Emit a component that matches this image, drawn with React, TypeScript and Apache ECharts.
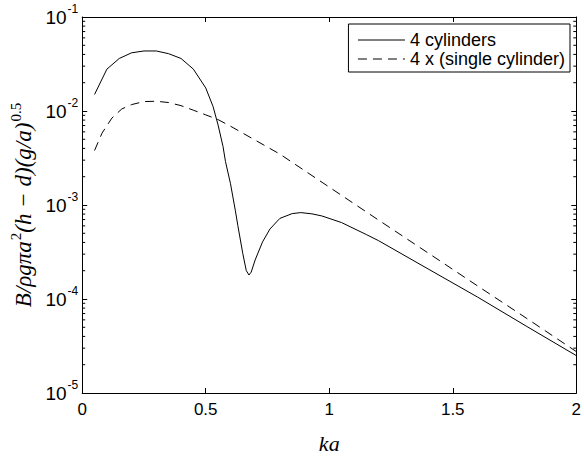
import React, { useEffect, useRef } from "react";
import * as echarts from "echarts";

const kaSolid = [0.05, 0.1, 0.15, 0.2, 0.25, 0.3, 0.35, 0.4, 0.45, 0.5, 0.53, 0.55, 0.57, 0.58, 0.6, 0.62, 0.63, 0.65, 0.664, 0.675, 0.684, 0.7, 0.73, 0.76, 0.8, 0.85, 0.885, 0.93, 0.97, 1.05, 1.15, 1.2, 1.4, 1.6, 1.8, 2.0];
const bSolid = [0.015, 0.0279, 0.0362, 0.0416, 0.0435, 0.0435, 0.0407, 0.0362, 0.0279, 0.0176, 0.0111, 0.0071, 0.0042, 0.0029, 0.0017, 0.00087, 0.000605, 0.000305, 0.000201, 0.000180, 0.000193, 0.00026, 0.000405, 0.000555, 0.00072, 0.00081, 0.00083, 0.000805, 0.000765, 0.00065, 0.000485, 0.000417, 0.000209, 0.000105, 0.000051, 0.000025];

const kaSingle = [0.05, 0.08, 0.12, 0.16, 0.2, 0.25, 0.3, 0.35, 0.4, 0.45, 0.5, 0.55, 0.6, 0.7, 0.8, 1.0, 1.2, 1.4, 1.6, 1.8, 2.0];
const bSingle = [0.0038, 0.0058, 0.0084, 0.0105, 0.0117, 0.0126, 0.0127, 0.0123, 0.0114, 0.0102, 0.0091, 0.0081, 0.0069, 0.0049, 0.00348, 0.00155, 0.00069, 0.000309, 0.000138, 0.000062, 0.0000276];

const xTicks = [0, 0.5, 1, 1.5, 2];
const minorMultipliers = [2, 3, 4, 5, 6, 7, 8, 9];
const minorDecades = [1e-5, 1e-4, 1e-3, 1e-2];

const seriesNames = ["4 cylinders", "4 x (single cylinder)"];

export default function App() {
  const ref = useRef<HTMLDivElement>(null);
  useEffect(() => {
    document.body.style.margin = "0";
    const chart = echarts.init(ref.current!, null, { renderer: "svg" });
    const minorVals: number[][] = [];
    minorDecades.forEach((d) => minorMultipliers.forEach((m) => minorVals.push([0, m * d])));
    const font = "'Liberation Sans', Arial, sans-serif";
    const serif = "'Liberation Serif', 'Times New Roman', serif";
    const axisLine = { show: true, onZero: false, lineStyle: { color: "#000", width: 1 } };
    const tick = { show: true, inside: true, length: 5, lineStyle: { color: "#000", width: 1 } };
    chart.setOption({
      animation: false,
      backgroundColor: "#fff",
      grid: { left: 80, right: 7, top: 17, bottom: 52, containLabel: false },
      legend: {
        data: seriesNames,
        orient: "vertical",
        right: 14,
        top: 24,
        itemStyle: { opacity: 0, borderWidth: 0 },
        lineStyle: { width: 1 },
        padding: [7, 5, 4, 9],
        itemGap: 1,
        itemWidth: 47,
        itemHeight: 14,
        borderColor: "#000",
        borderWidth: 1,
        backgroundColor: "#fff",
        borderRadius: 0,
        textStyle: { fontFamily: font, fontSize: 18, color: "#000" },
      },
      xAxis: [
        {
          type: "value",
          min: 0,
          max: 2,
          interval: 0.5,
          position: "bottom",
          axisLine,
          axisTick: tick,
          splitLine: { show: false },
          axisLabel: {
            fontFamily: font,
            fontSize: 17,
            color: "#000",
            margin: 8,
            formatter: (v: number) => (xTicks.includes(v) ? String(v) : ""),
          },
          name: "ka",
          nameLocation: "middle",
          nameGap: 39,
          nameTextStyle: { fontFamily: serif, fontStyle: "italic", fontSize: 22, color: "#000" },
        },
        {
          type: "value",
          min: 0,
          max: 2,
          interval: 0.5,
          position: "top",
          axisLine,
          axisTick: tick,
          splitLine: { show: false },
          axisLabel: { show: false },
        },
      ],
      yAxis: [
        {
          type: "log",
          logBase: 10,
          min: 1e-5,
          max: 1e-1,
          position: "left",
          axisLine,
          axisTick: tick,
          splitLine: { show: false },
          axisLabel: {
            margin: 4,
            formatter: (v: number) => `{b|10}{e|${Math.round(Math.log10(v))}}`,
            rich: {
              b: { fontFamily: font, fontSize: 19, color: "#000" },
              e: { fontFamily: font, fontSize: 12, color: "#000", padding: [0, 0, 16, 1] },
            },
          },
          name: "{i|B/ρgπa}{s|2}{i|(h − d)(g/a)}{s|0.5}",
          nameLocation: "middle",
          nameGap: 41,
          nameRotate: 90,
          nameTextStyle: {
            rich: {
              i: { fontFamily: serif, fontStyle: "italic", fontSize: 23, color: "#000" },
              s: { fontFamily: serif, fontSize: 15, color: "#000", padding: [0, 0, 15, 1] },
            },
          },
        },
        {
          type: "log",
          logBase: 10,
          min: 1e-5,
          max: 1e-1,
          position: "right",
          axisLine,
          axisTick: tick,
          splitLine: { show: false },
          axisLabel: { show: false },
        },
      ],
      series: [
        {
          name: seriesNames[0],
          type: "line",
          data: kaSolid.map((x, i) => [x, bSolid[i]]),
          showSymbol: false,
          symbol: "none",
          lineStyle: { color: "#000", width: 1, type: "solid" },
          itemStyle: { color: "#000" },
        },
        {
          name: seriesNames[1],
          type: "line",
          data: kaSingle.map((x, i) => [x, bSingle[i]]),
          showSymbol: false,
          symbol: "none",
          lineStyle: { color: "#000", width: 1, type: [9, 6] },
          itemStyle: { color: "#000" },
        },
        {
          type: "custom",
          silent: true,
          clip: false,
          encode: { x: 0, y: 1 },
          data: minorVals,
          renderItem: (params: any, api: any) => {
            const cs = params.coordSys;
            const p = api.coord([0, api.value(1)]);
            const y = p[1];
            const st = { stroke: "#000", lineWidth: 1 };
            return {
              type: "group",
              children: [
                { type: "line", shape: { x1: cs.x, y1: y, x2: cs.x + 3, y2: y }, style: st },
                { type: "line", shape: { x1: cs.x + cs.width - 3, y1: y, x2: cs.x + cs.width, y2: y }, style: st },
              ],
            };
          },
        },
      ],
    });
    return () => chart.dispose();
  }, []);
  return <div ref={ref} style={{ width: 584, height: 459 }} />;
}
